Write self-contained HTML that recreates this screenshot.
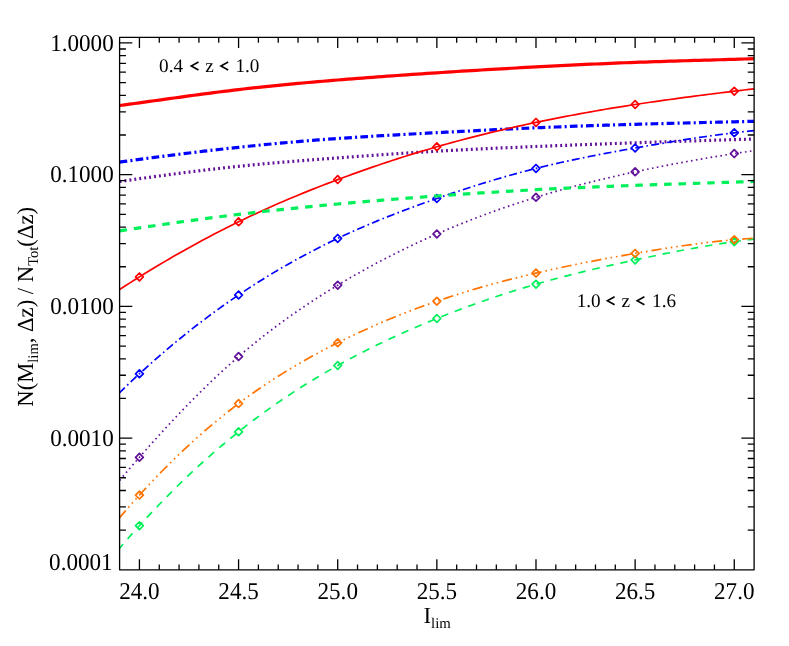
<!DOCTYPE html>
<html><head><meta charset="utf-8"><title>plot</title>
<style>html,body{margin:0;padding:0;background:#fff;}body{width:789px;height:646px;overflow:hidden;}svg{display:block;will-change:transform;}text{font-family:"Liberation Serif",serif;fill:#000;text-rendering:geometricPrecision;}</style>
</head><body>
<svg width="789" height="646" viewBox="0 0 789 646">
<rect x="0" y="0" width="789" height="646" fill="#ffffff"/>
<g fill="none" stroke-linecap="butt" stroke-linejoin="round">
<polyline points="119.6,181.5 124.56,180.8 129.51,180.09 134.47,179.39 139.43,178.7 144.39,178.01 149.34,177.32 154.3,176.64 159.26,175.97 164.21,175.3 169.17,174.63 174.13,173.98 179.08,173.33 184.04,172.69 189,172.06 193.96,171.43 198.91,170.82 203.87,170.21 208.83,169.62 213.78,169.04 218.74,168.47 223.7,167.91 228.65,167.36 233.61,166.82 238.57,166.3 243.53,165.79 248.48,165.3 253.44,164.81 258.4,164.34 263.35,163.88 268.31,163.43 273.27,162.99 278.23,162.56 283.18,162.14 288.14,161.73 293.1,161.32 298.05,160.92 303.01,160.53 307.97,160.14 312.92,159.76 317.88,159.38 322.84,159.01 327.8,158.64 332.75,158.27 337.71,157.9 342.67,157.53 347.62,157.17 352.58,156.81 357.54,156.45 362.49,156.09 367.45,155.74 372.41,155.38 377.37,155.04 382.32,154.69 387.28,154.35 392.24,154.01 397.19,153.68 402.15,153.35 407.11,153.03 412.06,152.71 417.02,152.39 421.98,152.09 426.94,151.78 431.89,151.49 436.85,151.2 441.81,150.92 446.76,150.64 451.72,150.37 456.68,150.11 461.64,149.85 466.59,149.6 471.55,149.35 476.51,149.11 481.46,148.87 486.42,148.64 491.38,148.41 496.33,148.18 501.29,147.96 506.25,147.75 511.21,147.53 516.16,147.32 521.12,147.11 526.08,146.91 531.03,146.7 535.99,146.5 540.95,146.3 545.9,146.1 550.86,145.91 555.82,145.71 560.78,145.52 565.73,145.33 570.69,145.14 575.65,144.95 580.6,144.76 585.56,144.57 590.52,144.39 595.48,144.21 600.43,144.03 605.39,143.85 610.35,143.67 615.3,143.49 620.26,143.32 625.22,143.14 630.17,142.97 635.13,142.8 640.09,142.63 645.05,142.46 650,142.29 654.96,142.13 659.92,141.96 664.87,141.8 669.83,141.63 674.79,141.47 679.74,141.31 684.7,141.15 689.66,140.99 694.62,140.83 699.57,140.68 704.53,140.52 709.49,140.37 714.44,140.21 719.4,140.06 724.36,139.9 729.31,139.75 734.27,139.6 739.23,139.45 744.19,139.3 749.14,139.15 754.1,139" stroke="#62109a" stroke-width="3.2" stroke-dasharray="1.9 3.07"/>
<polyline points="119.6,480.4 124.56,474.55 129.51,468.75 134.47,463 139.43,457.3 144.39,451.65 149.34,446.06 154.3,440.53 159.26,435.05 164.21,429.63 169.17,424.28 174.13,418.98 179.08,413.75 184.04,408.59 189,403.49 193.96,398.46 198.91,393.51 203.87,388.62 208.83,383.82 213.78,379.08 218.74,374.42 223.7,369.85 228.65,365.35 233.61,360.93 238.57,356.6 243.53,352.35 248.48,348.19 253.44,344.11 258.4,340.1 263.35,336.17 268.31,332.32 273.27,328.55 278.23,324.84 283.18,321.2 288.14,317.63 293.1,314.13 298.05,310.69 303.01,307.31 307.97,303.99 312.92,300.72 317.88,297.52 322.84,294.36 327.8,291.26 332.75,288.21 337.71,285.2 342.67,282.24 347.62,279.33 352.58,276.45 357.54,273.63 362.49,270.85 367.45,268.11 372.41,265.41 377.37,262.75 382.32,260.14 387.28,257.57 392.24,255.04 397.19,252.54 402.15,250.09 407.11,247.68 412.06,245.31 417.02,242.97 421.98,240.67 426.94,238.41 431.89,236.19 436.85,234 441.81,231.85 446.76,229.73 451.72,227.65 456.68,225.6 461.64,223.59 466.59,221.61 471.55,219.67 476.51,217.76 481.46,215.88 486.42,214.04 491.38,212.22 496.33,210.44 501.29,208.69 506.25,206.97 511.21,205.29 516.16,203.63 521.12,202 526.08,200.41 531.03,198.84 535.99,197.3 540.95,195.79 545.9,194.31 550.86,192.85 555.82,191.43 560.78,190.03 565.73,188.65 570.69,187.3 575.65,185.98 580.6,184.68 585.56,183.4 590.52,182.15 595.48,180.92 600.43,179.71 605.39,178.52 610.35,177.35 615.3,176.2 620.26,175.07 625.22,173.96 630.17,172.87 635.13,171.8 640.09,170.74 645.05,169.71 650,168.68 654.96,167.68 659.92,166.69 664.87,165.71 669.83,164.76 674.79,163.81 679.74,162.88 684.7,161.97 689.66,161.07 694.62,160.19 699.57,159.32 704.53,158.46 709.49,157.62 714.44,156.79 719.4,155.97 724.36,155.17 729.31,154.38 734.27,153.6 739.23,152.83 744.19,152.08 749.14,151.33 754.1,150.6" stroke="#62109a" stroke-width="1.7" stroke-dasharray="1.6 3.37"/>
<path d="M135.53 457.3L139.43 453.4L143.33 457.3L139.43 461.2Z" stroke="#62109a" stroke-width="1.7" stroke-linejoin="round"/>
<path d="M234.67 356.6L238.57 352.7L242.47 356.6L238.57 360.5Z" stroke="#62109a" stroke-width="1.7" stroke-linejoin="round"/>
<path d="M333.81 285.2L337.71 281.3L341.61 285.2L337.71 289.1Z" stroke="#62109a" stroke-width="1.7" stroke-linejoin="round"/>
<path d="M432.95 234L436.85 230.1L440.75 234L436.85 237.9Z" stroke="#62109a" stroke-width="1.7" stroke-linejoin="round"/>
<path d="M532.09 197.3L535.99 193.4L539.89 197.3L535.99 201.2Z" stroke="#62109a" stroke-width="1.7" stroke-linejoin="round"/>
<path d="M631.23 171.8L635.13 167.9L639.03 171.8L635.13 175.7Z" stroke="#62109a" stroke-width="1.7" stroke-linejoin="round"/>
<path d="M730.37 153.6L734.27 149.7L738.17 153.6L734.27 157.5Z" stroke="#62109a" stroke-width="1.7" stroke-linejoin="round"/>
<polyline points="119.6,162.1 124.56,161.42 129.51,160.74 134.47,160.07 139.43,159.4 144.39,158.74 149.34,158.08 154.3,157.42 159.26,156.78 164.21,156.13 169.17,155.5 174.13,154.86 179.08,154.24 184.04,153.62 189,153.01 193.96,152.4 198.91,151.81 203.87,151.21 208.83,150.63 213.78,150.06 218.74,149.49 223.7,148.93 228.65,148.38 233.61,147.83 238.57,147.3 243.53,146.77 248.48,146.26 253.44,145.75 258.4,145.25 263.35,144.76 268.31,144.28 273.27,143.81 278.23,143.35 283.18,142.9 288.14,142.45 293.1,142.02 298.05,141.59 303.01,141.17 307.97,140.76 312.92,140.36 317.88,139.97 322.84,139.59 327.8,139.22 332.75,138.85 337.71,138.5 342.67,138.15 347.62,137.82 352.58,137.49 357.54,137.17 362.49,136.85 367.45,136.55 372.41,136.24 377.37,135.95 382.32,135.66 387.28,135.37 392.24,135.09 397.19,134.82 402.15,134.55 407.11,134.28 412.06,134.01 417.02,133.74 421.98,133.48 426.94,133.22 431.89,132.96 436.85,132.7 441.81,132.44 446.76,132.18 451.72,131.92 456.68,131.66 461.64,131.4 466.59,131.15 471.55,130.89 476.51,130.64 481.46,130.39 486.42,130.14 491.38,129.89 496.33,129.64 501.29,129.4 506.25,129.16 511.21,128.93 516.16,128.69 521.12,128.46 526.08,128.24 531.03,128.02 535.99,127.8 540.95,127.59 545.9,127.38 550.86,127.18 555.82,126.98 560.78,126.78 565.73,126.59 570.69,126.4 575.65,126.22 580.6,126.04 585.56,125.86 590.52,125.69 595.48,125.52 600.43,125.36 605.39,125.2 610.35,125.04 615.3,124.89 620.26,124.74 625.22,124.59 630.17,124.44 635.13,124.3 640.09,124.16 645.05,124.02 650,123.89 654.96,123.76 659.92,123.63 664.87,123.5 669.83,123.37 674.79,123.25 679.74,123.13 684.7,123 689.66,122.88 694.62,122.76 699.57,122.64 704.53,122.52 709.49,122.4 714.44,122.28 719.4,122.16 724.36,122.04 729.31,121.92 734.27,121.8 739.23,121.68 744.19,121.55 749.14,121.43 754.1,121.3" stroke="#0000ff" stroke-width="3.2" stroke-dasharray="7.7 3.2 2.04 3.2"/>
<polyline points="119.6,392.6 124.56,387.8 129.51,383.07 134.47,378.4 139.43,373.8 144.39,369.27 149.34,364.8 154.3,360.4 159.26,356.06 164.21,351.78 169.17,347.57 174.13,343.43 179.08,339.34 184.04,335.32 189,331.36 193.96,327.45 198.91,323.61 203.87,319.83 208.83,316.11 213.78,312.45 218.74,308.84 223.7,305.3 228.65,301.81 233.61,298.38 238.57,295 243.53,291.68 248.48,288.41 253.44,285.2 258.4,282.05 263.35,278.94 268.31,275.89 273.27,272.89 278.23,269.95 283.18,267.05 288.14,264.2 293.1,261.41 298.05,258.66 303.01,255.96 307.97,253.32 312.92,250.71 317.88,248.16 322.84,245.65 327.8,243.19 332.75,240.77 337.71,238.4 342.67,236.07 347.62,233.79 352.58,231.54 357.54,229.34 362.49,227.18 367.45,225.05 372.41,222.96 377.37,220.9 382.32,218.88 387.28,216.89 392.24,214.93 397.19,213.01 402.15,211.11 407.11,209.23 412.06,207.39 417.02,205.57 421.98,203.77 426.94,201.99 431.89,200.24 436.85,198.5 441.81,196.78 446.76,195.08 451.72,193.4 456.68,191.74 461.64,190.11 466.59,188.49 471.55,186.89 476.51,185.32 481.46,183.77 486.42,182.24 491.38,180.74 496.33,179.26 501.29,177.81 506.25,176.38 511.21,174.98 516.16,173.61 521.12,172.26 526.08,170.95 531.03,169.66 535.99,168.4 540.95,167.17 545.9,165.97 550.86,164.8 555.82,163.66 560.78,162.54 565.73,161.44 570.69,160.37 575.65,159.32 580.6,158.29 585.56,157.28 590.52,156.29 595.48,155.32 600.43,154.36 605.39,153.41 610.35,152.48 615.3,151.57 620.26,150.66 625.22,149.77 630.17,148.88 635.13,148 640.09,147.13 645.05,146.26 650,145.41 654.96,144.56 659.92,143.72 664.87,142.89 669.83,142.08 674.79,141.27 679.74,140.48 684.7,139.7 689.66,138.93 694.62,138.18 699.57,137.45 704.53,136.73 709.49,136.03 714.44,135.34 719.4,134.68 724.36,134.03 729.31,133.41 734.27,132.8 739.23,132.22 744.19,131.65 749.14,131.12 754.1,130.6" stroke="#0000ff" stroke-width="1.7" stroke-dasharray="8.0 3.27 1.6 3.27" stroke-dashoffset="0.74"/>
<path d="M135.53 373.8L139.43 369.9L143.33 373.8L139.43 377.7Z" stroke="#0000ff" stroke-width="1.7" stroke-linejoin="round"/>
<path d="M234.67 295L238.57 291.1L242.47 295L238.57 298.9Z" stroke="#0000ff" stroke-width="1.7" stroke-linejoin="round"/>
<path d="M333.81 238.4L337.71 234.5L341.61 238.4L337.71 242.3Z" stroke="#0000ff" stroke-width="1.7" stroke-linejoin="round"/>
<path d="M432.95 198.5L436.85 194.6L440.75 198.5L436.85 202.4Z" stroke="#0000ff" stroke-width="1.7" stroke-linejoin="round"/>
<path d="M532.09 168.4L535.99 164.5L539.89 168.4L535.99 172.3Z" stroke="#0000ff" stroke-width="1.7" stroke-linejoin="round"/>
<path d="M631.23 148L635.13 144.1L639.03 148L635.13 151.9Z" stroke="#0000ff" stroke-width="1.7" stroke-linejoin="round"/>
<path d="M730.37 132.8L734.27 128.9L738.17 132.8L734.27 136.7Z" stroke="#0000ff" stroke-width="1.7" stroke-linejoin="round"/>
<polyline points="119.6,105.5 124.56,104.83 129.51,104.16 134.47,103.48 139.43,102.8 144.39,102.12 149.34,101.43 154.3,100.74 159.26,100.05 164.21,99.36 169.17,98.68 174.13,97.99 179.08,97.31 184.04,96.63 189,95.95 193.96,95.28 198.91,94.62 203.87,93.96 208.83,93.31 213.78,92.66 218.74,92.03 223.7,91.41 228.65,90.79 233.61,90.19 238.57,89.6 243.53,89.02 248.48,88.46 253.44,87.91 258.4,87.37 263.35,86.84 268.31,86.32 273.27,85.81 278.23,85.31 283.18,84.83 288.14,84.35 293.1,83.88 298.05,83.42 303.01,82.97 307.97,82.52 312.92,82.09 317.88,81.66 322.84,81.23 327.8,80.82 332.75,80.41 337.71,80 342.67,79.6 347.62,79.2 352.58,78.81 357.54,78.43 362.49,78.05 367.45,77.67 372.41,77.3 377.37,76.93 382.32,76.56 387.28,76.2 392.24,75.85 397.19,75.5 402.15,75.15 407.11,74.8 412.06,74.46 417.02,74.12 421.98,73.79 426.94,73.46 431.89,73.13 436.85,72.8 441.81,72.48 446.76,72.16 451.72,71.84 456.68,71.52 461.64,71.21 466.59,70.9 471.55,70.6 476.51,70.29 481.46,69.99 486.42,69.7 491.38,69.4 496.33,69.11 501.29,68.82 506.25,68.54 511.21,68.26 516.16,67.98 521.12,67.7 526.08,67.43 531.03,67.16 535.99,66.9 540.95,66.64 545.9,66.38 550.86,66.13 555.82,65.87 560.78,65.63 565.73,65.38 570.69,65.14 575.65,64.91 580.6,64.68 585.56,64.45 590.52,64.22 595.48,64 600.43,63.79 605.39,63.58 610.35,63.37 615.3,63.17 620.26,62.97 625.22,62.77 630.17,62.58 635.13,62.4 640.09,62.22 645.05,62.04 650,61.87 654.96,61.7 659.92,61.54 664.87,61.38 669.83,61.22 674.79,61.07 679.74,60.91 684.7,60.76 689.66,60.61 694.62,60.46 699.57,60.32 704.53,60.17 709.49,60.03 714.44,59.88 719.4,59.74 724.36,59.59 729.31,59.45 734.27,59.3 739.23,59.15 744.19,59 749.14,58.85 754.1,58.7" stroke="#ff0000" stroke-width="3.2"/>
<polyline points="119.6,289.5 124.56,286.3 129.51,283.14 134.47,280 139.43,276.9 144.39,273.83 149.34,270.79 154.3,267.79 159.26,264.81 164.21,261.87 169.17,258.97 174.13,256.09 179.08,253.25 184.04,250.44 189,247.67 193.96,244.93 198.91,242.22 203.87,239.55 208.83,236.91 213.78,234.3 218.74,231.73 223.7,229.2 228.65,226.7 233.61,224.23 238.57,221.8 243.53,219.4 248.48,217.04 253.44,214.71 258.4,212.42 263.35,210.16 268.31,207.92 273.27,205.72 278.23,203.55 283.18,201.41 288.14,199.3 293.1,197.22 298.05,195.16 303.01,193.13 307.97,191.12 312.92,189.14 317.88,187.19 322.84,185.26 327.8,183.35 332.75,181.46 337.71,179.6 342.67,177.76 347.62,175.93 352.58,174.13 357.54,172.35 362.49,170.59 367.45,168.86 372.41,167.14 377.37,165.44 382.32,163.77 387.28,162.12 392.24,160.49 397.19,158.88 402.15,157.29 407.11,155.73 412.06,154.18 417.02,152.66 421.98,151.16 426.94,149.69 431.89,148.23 436.85,146.8 441.81,145.39 446.76,144 451.72,142.64 456.68,141.29 461.64,139.97 466.59,138.66 471.55,137.38 476.51,136.12 481.46,134.87 486.42,133.65 491.38,132.45 496.33,131.26 501.29,130.09 506.25,128.94 511.21,127.81 516.16,126.69 521.12,125.6 526.08,124.51 531.03,123.45 535.99,122.4 540.95,121.37 545.9,120.35 550.86,119.35 555.82,118.36 560.78,117.39 565.73,116.43 570.69,115.49 575.65,114.56 580.6,113.64 585.56,112.74 590.52,111.86 595.48,110.99 600.43,110.13 605.39,109.28 610.35,108.45 615.3,107.64 620.26,106.83 625.22,106.04 630.17,105.26 635.13,104.5 640.09,103.75 645.05,103.01 650,102.28 654.96,101.56 659.92,100.85 664.87,100.16 669.83,99.47 674.79,98.79 679.74,98.12 684.7,97.46 689.66,96.81 694.62,96.17 699.57,95.53 704.53,94.89 709.49,94.27 714.44,93.64 719.4,93.03 724.36,92.41 729.31,91.81 734.27,91.2 739.23,90.6 744.19,90 749.14,89.4 754.1,88.8" stroke="#ff0000" stroke-width="1.7"/>
<path d="M135.53 276.9L139.43 273L143.33 276.9L139.43 280.8Z" stroke="#ff0000" stroke-width="1.7" stroke-linejoin="round"/>
<path d="M234.67 221.8L238.57 217.9L242.47 221.8L238.57 225.7Z" stroke="#ff0000" stroke-width="1.7" stroke-linejoin="round"/>
<path d="M333.81 179.6L337.71 175.7L341.61 179.6L337.71 183.5Z" stroke="#ff0000" stroke-width="1.7" stroke-linejoin="round"/>
<path d="M432.95 146.8L436.85 142.9L440.75 146.8L436.85 150.7Z" stroke="#ff0000" stroke-width="1.7" stroke-linejoin="round"/>
<path d="M532.09 122.4L535.99 118.5L539.89 122.4L535.99 126.3Z" stroke="#ff0000" stroke-width="1.7" stroke-linejoin="round"/>
<path d="M631.23 104.5L635.13 100.6L639.03 104.5L635.13 108.4Z" stroke="#ff0000" stroke-width="1.7" stroke-linejoin="round"/>
<path d="M730.37 91.2L734.27 87.3L738.17 91.2L734.27 95.1Z" stroke="#ff0000" stroke-width="1.7" stroke-linejoin="round"/>
<polyline points="119.6,230.9 124.56,230.14 129.51,229.39 134.47,228.64 139.43,227.9 144.39,227.16 149.34,226.43 154.3,225.71 159.26,224.99 164.21,224.27 169.17,223.56 174.13,222.86 179.08,222.17 184.04,221.48 189,220.8 193.96,220.12 198.91,219.46 203.87,218.8 208.83,218.14 213.78,217.5 218.74,216.86 223.7,216.23 228.65,215.61 233.61,215 238.57,214.4 243.53,213.81 248.48,213.22 253.44,212.64 258.4,212.07 263.35,211.51 268.31,210.96 273.27,210.42 278.23,209.88 283.18,209.35 288.14,208.83 293.1,208.32 298.05,207.81 303.01,207.31 307.97,206.82 312.92,206.33 317.88,205.85 322.84,205.38 327.8,204.91 332.75,204.45 337.71,204 342.67,203.55 347.62,203.11 352.58,202.67 357.54,202.24 362.49,201.82 367.45,201.4 372.41,200.98 377.37,200.57 382.32,200.17 387.28,199.77 392.24,199.37 397.19,198.98 402.15,198.59 407.11,198.21 412.06,197.83 417.02,197.46 421.98,197.09 426.94,196.72 431.89,196.36 436.85,196 441.81,195.64 446.76,195.29 451.72,194.94 456.68,194.6 461.64,194.26 466.59,193.92 471.55,193.59 476.51,193.26 481.46,192.94 486.42,192.62 491.38,192.3 496.33,191.99 501.29,191.69 506.25,191.39 511.21,191.09 516.16,190.8 521.12,190.52 526.08,190.24 531.03,189.97 535.99,189.7 540.95,189.44 545.9,189.18 550.86,188.93 555.82,188.69 560.78,188.45 565.73,188.22 570.69,187.99 575.65,187.76 580.6,187.55 585.56,187.33 590.52,187.12 595.48,186.92 600.43,186.71 605.39,186.52 610.35,186.32 615.3,186.13 620.26,185.94 625.22,185.76 630.17,185.58 635.13,185.4 640.09,185.22 645.05,185.05 650,184.88 654.96,184.71 659.92,184.55 664.87,184.38 669.83,184.22 674.79,184.06 679.74,183.89 684.7,183.73 689.66,183.57 694.62,183.41 699.57,183.25 704.53,183.09 709.49,182.93 714.44,182.77 719.4,182.6 724.36,182.44 729.31,182.27 734.27,182.1 739.23,181.93 744.19,181.76 749.14,181.58 754.1,181.4" stroke="#00f05a" stroke-width="3.2" stroke-dasharray="7.5 6.89"/>
<polyline points="119.6,548.2 124.56,542.45 129.51,536.79 134.47,531.2 139.43,525.7 144.39,520.27 149.34,514.93 154.3,509.66 159.26,504.47 164.21,499.36 169.17,494.33 174.13,489.37 179.08,484.49 184.04,479.69 189,474.97 193.96,470.31 198.91,465.74 203.87,461.24 208.83,456.81 213.78,452.46 218.74,448.18 223.7,443.98 228.65,439.85 233.61,435.79 238.57,431.8 243.53,427.88 248.48,424.04 253.44,420.26 258.4,416.56 263.35,412.92 268.31,409.34 273.27,405.83 278.23,402.38 283.18,399 288.14,395.67 293.1,392.41 298.05,389.2 303.01,386.05 307.97,382.96 312.92,379.92 317.88,376.93 322.84,374 327.8,371.12 332.75,368.28 337.71,365.5 342.67,362.76 347.62,360.07 352.58,357.43 357.54,354.82 362.49,352.27 367.45,349.75 372.41,347.28 377.37,344.85 382.32,342.45 387.28,340.1 392.24,337.78 397.19,335.51 402.15,333.26 407.11,331.06 412.06,328.88 417.02,326.74 421.98,324.64 426.94,322.56 431.89,320.52 436.85,318.5 441.81,316.51 446.76,314.56 451.72,312.63 456.68,310.73 461.64,308.86 466.59,307.01 471.55,305.2 476.51,303.41 481.46,301.65 486.42,299.93 491.38,298.23 496.33,296.55 501.29,294.91 506.25,293.3 511.21,291.71 516.16,290.15 521.12,288.62 526.08,287.12 531.03,285.65 535.99,284.2 540.95,282.78 545.9,281.39 550.86,280.03 555.82,278.69 560.78,277.38 565.73,276.08 570.69,274.82 575.65,273.57 580.6,272.34 585.56,271.13 590.52,269.94 595.48,268.77 600.43,267.62 605.39,266.47 610.35,265.35 615.3,264.24 620.26,263.14 625.22,262.05 630.17,260.97 635.13,259.9 640.09,258.84 645.05,257.79 650,256.75 654.96,255.72 659.92,254.71 664.87,253.7 669.83,252.72 674.79,251.75 679.74,250.79 684.7,249.86 689.66,248.94 694.62,248.04 699.57,247.16 704.53,246.31 709.49,245.48 714.44,244.67 719.4,243.89 724.36,243.13 729.31,242.4 734.27,241.7 739.23,241.03 744.19,240.39 749.14,239.78 754.1,239.2" stroke="#00f05a" stroke-width="1.7" stroke-dasharray="7.5 6.89" stroke-dashoffset="2.2"/>
<path d="M135.53 525.7L139.43 521.8L143.33 525.7L139.43 529.6Z" stroke="#00f05a" stroke-width="1.7" stroke-linejoin="round"/>
<path d="M234.67 431.8L238.57 427.9L242.47 431.8L238.57 435.7Z" stroke="#00f05a" stroke-width="1.7" stroke-linejoin="round"/>
<path d="M333.81 365.5L337.71 361.6L341.61 365.5L337.71 369.4Z" stroke="#00f05a" stroke-width="1.7" stroke-linejoin="round"/>
<path d="M432.95 318.5L436.85 314.6L440.75 318.5L436.85 322.4Z" stroke="#00f05a" stroke-width="1.7" stroke-linejoin="round"/>
<path d="M532.09 284.2L535.99 280.3L539.89 284.2L535.99 288.1Z" stroke="#00f05a" stroke-width="1.7" stroke-linejoin="round"/>
<path d="M631.23 259.9L635.13 256L639.03 259.9L635.13 263.8Z" stroke="#00f05a" stroke-width="1.7" stroke-linejoin="round"/>
<path d="M730.37 241.7L734.27 237.8L738.17 241.7L734.27 245.6Z" stroke="#00f05a" stroke-width="1.7" stroke-linejoin="round"/>
<polyline points="119.6,517.6 124.56,511.84 129.51,506.17 134.47,500.59 139.43,495.1 144.39,489.7 149.34,484.39 154.3,479.17 159.26,474.03 164.21,468.99 169.17,464.03 174.13,459.16 179.08,454.37 184.04,449.67 189,445.06 193.96,440.54 198.91,436.09 203.87,431.74 208.83,427.47 213.78,423.28 218.74,419.18 223.7,415.16 228.65,411.22 233.61,407.37 238.57,403.6 243.53,399.91 248.48,396.3 253.44,392.77 258.4,389.32 263.35,385.94 268.31,382.63 273.27,379.39 278.23,376.22 283.18,373.12 288.14,370.08 293.1,367.1 298.05,364.19 303.01,361.33 307.97,358.53 312.92,355.78 317.88,353.09 322.84,350.45 327.8,347.85 332.75,345.3 337.71,342.8 342.67,340.34 347.62,337.92 352.58,335.55 357.54,333.21 362.49,330.92 367.45,328.67 372.41,326.46 377.37,324.28 382.32,322.15 387.28,320.06 392.24,318.01 397.19,315.99 402.15,314.01 407.11,312.07 412.06,310.17 417.02,308.3 421.98,306.47 426.94,304.68 431.89,302.92 436.85,301.2 441.81,299.51 446.76,297.86 451.72,296.24 456.68,294.65 461.64,293.09 466.59,291.57 471.55,290.08 476.51,288.61 481.46,287.18 486.42,285.77 491.38,284.39 496.33,283.04 501.29,281.71 506.25,280.41 511.21,279.13 516.16,277.88 521.12,276.65 526.08,275.45 531.03,274.26 535.99,273.1 540.95,271.96 545.9,270.83 550.86,269.73 555.82,268.65 560.78,267.58 565.73,266.53 570.69,265.5 575.65,264.49 580.6,263.49 585.56,262.5 590.52,261.53 595.48,260.58 600.43,259.64 605.39,258.71 610.35,257.8 615.3,256.9 620.26,256.01 625.22,255.13 630.17,254.26 635.13,253.4 640.09,252.55 645.05,251.71 650,250.89 654.96,250.07 659.92,249.27 664.87,248.49 669.83,247.72 674.79,246.97 679.74,246.23 684.7,245.52 689.66,244.83 694.62,244.15 699.57,243.51 704.53,242.88 709.49,242.28 714.44,241.71 719.4,241.16 724.36,240.65 729.31,240.16 734.27,239.7 739.23,239.27 744.19,238.88 749.14,238.52 754.1,238.2" stroke="#ff7300" stroke-width="1.7" stroke-dasharray="10.3 3.86 1.6 3.86 1.6 3.86 1.6 3.86" stroke-dashoffset="0.95"/>
<path d="M135.53 495.1L139.43 491.2L143.33 495.1L139.43 499Z" stroke="#ff7300" stroke-width="1.7" stroke-linejoin="round"/>
<path d="M234.67 403.6L238.57 399.7L242.47 403.6L238.57 407.5Z" stroke="#ff7300" stroke-width="1.7" stroke-linejoin="round"/>
<path d="M333.81 342.8L337.71 338.9L341.61 342.8L337.71 346.7Z" stroke="#ff7300" stroke-width="1.7" stroke-linejoin="round"/>
<path d="M432.95 301.2L436.85 297.3L440.75 301.2L436.85 305.1Z" stroke="#ff7300" stroke-width="1.7" stroke-linejoin="round"/>
<path d="M532.09 273.1L535.99 269.2L539.89 273.1L535.99 277Z" stroke="#ff7300" stroke-width="1.7" stroke-linejoin="round"/>
<path d="M631.23 253.4L635.13 249.5L639.03 253.4L635.13 257.3Z" stroke="#ff7300" stroke-width="1.7" stroke-linejoin="round"/>
<path d="M730.37 239.7L734.27 235.8L738.17 239.7L734.27 243.6Z" stroke="#ff7300" stroke-width="1.7" stroke-linejoin="round"/>
</g>
<g stroke="#000" stroke-width="1.3" fill="none" stroke-linecap="butt">
<path d="M139.43 569.8V559.2M139.43 37.4V48M159.26 569.8V564.5M159.26 37.4V42.7M179.08 569.8V564.5M179.08 37.4V42.7M198.91 569.8V564.5M198.91 37.4V42.7M218.74 569.8V564.5M218.74 37.4V42.7M238.57 569.8V559.2M238.57 37.4V48M258.4 569.8V564.5M258.4 37.4V42.7M278.23 569.8V564.5M278.23 37.4V42.7M298.05 569.8V564.5M298.05 37.4V42.7M317.88 569.8V564.5M317.88 37.4V42.7M337.71 569.8V559.2M337.71 37.4V48M357.54 569.8V564.5M357.54 37.4V42.7M377.37 569.8V564.5M377.37 37.4V42.7M397.19 569.8V564.5M397.19 37.4V42.7M417.02 569.8V564.5M417.02 37.4V42.7M436.85 569.8V559.2M436.85 37.4V48M456.68 569.8V564.5M456.68 37.4V42.7M476.51 569.8V564.5M476.51 37.4V42.7M496.33 569.8V564.5M496.33 37.4V42.7M516.16 569.8V564.5M516.16 37.4V42.7M535.99 569.8V559.2M535.99 37.4V48M555.82 569.8V564.5M555.82 37.4V42.7M575.65 569.8V564.5M575.65 37.4V42.7M595.48 569.8V564.5M595.48 37.4V42.7M615.3 569.8V564.5M615.3 37.4V42.7M635.13 569.8V559.2M635.13 37.4V48M654.96 569.8V564.5M654.96 37.4V42.7M674.79 569.8V564.5M674.79 37.4V42.7M694.62 569.8V564.5M694.62 37.4V42.7M714.44 569.8V564.5M714.44 37.4V42.7M734.27 569.8V559.2M734.27 37.4V48M119.6 530.15H125.95M754.1 530.15H747.75M119.6 506.96H125.95M754.1 506.96H747.75M119.6 490.5H125.95M754.1 490.5H747.75M119.6 477.74H125.95M754.1 477.74H747.75M119.6 467.31H125.95M754.1 467.31H747.75M119.6 458.49H125.95M754.1 458.49H747.75M119.6 450.85H125.95M754.1 450.85H747.75M119.6 444.12H125.95M754.1 444.12H747.75M119.6 438.09H132.3M754.1 438.09H741.4M119.6 398.44H125.95M754.1 398.44H747.75M119.6 375.25H125.95M754.1 375.25H747.75M119.6 358.79H125.95M754.1 358.79H747.75M119.6 346.03H125.95M754.1 346.03H747.75M119.6 335.6H125.95M754.1 335.6H747.75M119.6 326.78H125.95M754.1 326.78H747.75M119.6 319.14H125.95M754.1 319.14H747.75M119.6 312.41H125.95M754.1 312.41H747.75M119.6 306.38H132.3M754.1 306.38H741.4M119.6 266.73H125.95M754.1 266.73H747.75M119.6 243.54H125.95M754.1 243.54H747.75M119.6 227.08H125.95M754.1 227.08H747.75M119.6 214.32H125.95M754.1 214.32H747.75M119.6 203.89H125.95M754.1 203.89H747.75M119.6 195.07H125.95M754.1 195.07H747.75M119.6 187.43H125.95M754.1 187.43H747.75M119.6 180.7H125.95M754.1 180.7H747.75M119.6 174.67H132.3M754.1 174.67H741.4M119.6 135.02H125.95M754.1 135.02H747.75M119.6 111.83H125.95M754.1 111.83H747.75M119.6 95.37H125.95M754.1 95.37H747.75M119.6 82.61H125.95M754.1 82.61H747.75M119.6 72.18H125.95M754.1 72.18H747.75M119.6 63.36H125.95M754.1 63.36H747.75M119.6 55.72H125.95M754.1 55.72H747.75M119.6 48.99H125.95M754.1 48.99H747.75M119.6 42.96H132.3M754.1 42.96H741.4"/>
</g>
<rect x="119.6" y="37.4" width="634.5" height="532.4" fill="none" stroke="#000" stroke-width="1.3" stroke-linejoin="round"/>
<g font-size="24.2">
<text transform="translate(113.7 50.66) scale(0.955 1)" text-anchor="end">1.0000</text>
<text transform="translate(113.7 182.37) scale(0.955 1)" text-anchor="end">0.1000</text>
<text transform="translate(113.7 314.08) scale(0.955 1)" text-anchor="end">0.0100</text>
<text transform="translate(113.7 445.79) scale(0.955 1)" text-anchor="end">0.0010</text>
<text transform="translate(112.6 570.3) scale(0.955 1)" text-anchor="end">0.0001</text>
<text transform="translate(139.43 598.7) scale(0.955 1)" text-anchor="middle">24.0</text>
<text transform="translate(238.57 598.7) scale(0.955 1)" text-anchor="middle">24.5</text>
<text transform="translate(337.71 598.7) scale(0.955 1)" text-anchor="middle">25.0</text>
<text transform="translate(436.85 598.7) scale(0.955 1)" text-anchor="middle">25.5</text>
<text transform="translate(535.99 598.7) scale(0.955 1)" text-anchor="middle">26.0</text>
<text transform="translate(635.13 598.7) scale(0.955 1)" text-anchor="middle">26.5</text>
<text transform="translate(734.27 598.7) scale(0.955 1)" text-anchor="middle">27.0</text>
</g>
<text x="423.5" y="622.9" font-size="23">I</text>
<text x="431.1" y="628.2" font-size="14.8">lim</text>
<g transform="translate(32.9 406.7) rotate(-90) scale(0.984 1)">
<text id="yt" x="0" y="0" font-size="23">N(M<tspan font-size="14.8" dy="5.1">lim</tspan><tspan dy="-5.1">, Δz) / N</tspan><tspan font-size="14.8" dy="5.1">Tot</tspan><tspan dy="-5.1">(Δz)</tspan></text>
</g>
<g font-size="19.2">
<text x="159.1" y="71.6">0.4</text>
<path d="M198.5 62L191.2 66L198.5 70" fill="none" stroke="#000" stroke-width="1.55" stroke-linejoin="miter" stroke-linecap="butt"/>
<text x="205.3" y="71.6">z</text>
<path d="M228.2 62L220.9 66L228.2 70" fill="none" stroke="#000" stroke-width="1.55" stroke-linejoin="miter" stroke-linecap="butt"/>
<text x="235.4" y="71.6">1.0</text>
<text x="576.7" y="306.6">1.0</text>
<path d="M614.6 296.8L607.3 300.8L614.6 304.8" fill="none" stroke="#000" stroke-width="1.55" stroke-linejoin="miter" stroke-linecap="butt"/>
<text x="621.4" y="306.6">z</text>
<path d="M644.4 296.8L637.1 300.8L644.4 304.8" fill="none" stroke="#000" stroke-width="1.55" stroke-linejoin="miter" stroke-linecap="butt"/>
<text x="652.1" y="306.6">1.6</text>
</g>
</svg>
</body></html>
